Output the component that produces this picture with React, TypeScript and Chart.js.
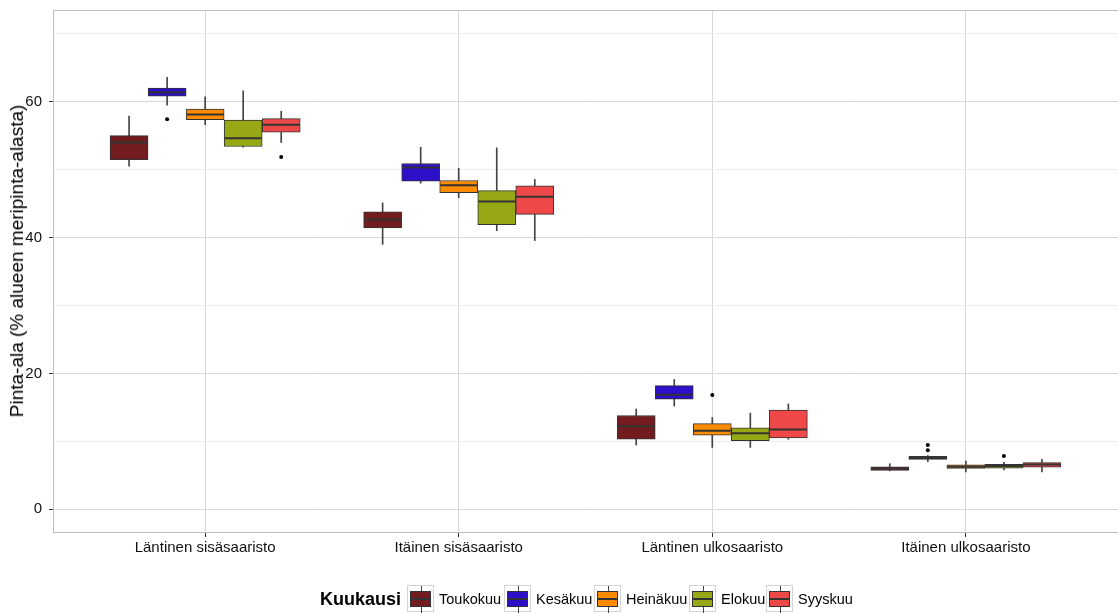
import React, { useEffect, useRef } from "react";
import { Chart, registerables } from "chart.js";

Chart.register(...registerables);

// ---- data ----
const groups = ["Läntinen sisäsaaristo", "Itäinen sisäsaaristo", "Läntinen ulkosaaristo", "Itäinen ulkosaaristo"];
const months = ["Toukokuu", "Kesäkuu", "Heinäkuu", "Elokuu", "Syyskuu"];
const yTitle = "Pinta-ala (% alueen meripinta-alasta)";
const legendTitle = "Kuukausi";

// [lower whisker, Q1, median, Q3, upper whisker] per group
const toukokuu = [
  [50.5, 51.45, 54.0, 55.0, 57.9],
  [39.0, 41.4, 42.65, 43.8, 45.1],
  [9.45, 10.3, 12.2, 13.8, 14.75],
  [5.65, 5.7, 6.0, 6.25, 6.7],
];
const kesakuu = [
  [59.5, 60.8, 61.4, 62.0, 63.6],
  [48.0, 48.3, 50.3, 50.9, 53.3],
  [15.2, 16.2, 16.85, 18.2, 19.1],
  [7.0, 7.35, 7.55, 7.8, 7.9],
];
const heinakuu = [
  [56.6, 57.35, 58.1, 58.9, 60.7],
  [45.85, 46.6, 47.7, 48.4, 50.2],
  [9.1, 10.9, 11.55, 12.6, 13.5],
  [5.5, 6.0, 6.25, 6.55, 7.1],
];
const elokuu = [
  [53.3, 53.4, 54.6, 57.3, 61.6],
  [41.0, 41.9, 45.3, 46.9, 53.2],
  [9.1, 10.1, 11.2, 12.0, 14.15],
  [5.8, 6.05, 6.35, 6.6, 6.9],
];
const syyskuu = [
  [54.0, 55.5, 56.6, 57.5, 58.6],
  [39.55, 43.4, 46.0, 47.6, 48.55],
  [10.3, 10.5, 11.75, 14.6, 15.5],
  [5.5, 6.2, 6.6, 6.85, 7.35],
];
const monthStats = [toukokuu, kesakuu, heinakuu, elokuu, syyskuu];

// outliers
const outlierMonth = [1, 4, 2, 1, 1, 3];
const outlierGroup = [0, 0, 2, 3, 3, 3];
const outlierValue = [57.4, 51.85, 16.8, 9.45, 8.7, 7.85];

const yTicks = [0, 10, 20, 30, 40, 50, 60, 70];

// ---- styles ----
const fills = ["#721C1F", "#2B0FC9", "#FF8C00", "#97A814", "#EF4848"];
const FONT = "'Liberation Sans', Arial, Helvetica, sans-serif";
const DODGE = 0.15;
const BOX_PX = 38;
const legendKeyX = [407, 504, 594, 689, 766];

const xPos = (g: number, m: number) => g + 1 + (m - 2) * DODGE;

export default function App() {
  const ref = useRef<HTMLCanvasElement | null>(null);

  useEffect(() => {
    document.body.style.margin = "0";
    document.body.style.overflow = "hidden";
    const canvas = ref.current;
    if (!canvas) return;

    const datasets: any[] = [];
    monthStats.forEach((stats, m) => {
      datasets.push({
        type: "bar",
        label: months[m] + " whisker",
        data: stats.map((s, g) => ({ x: xPos(g, m), y: [s[0], s[4]] })),
        backgroundColor: "#444444",
        borderWidth: 0,
        barThickness: 1,
        grouped: false,
        order: 3,
      });
      datasets.push({
        type: "bar",
        label: months[m],
        data: stats.map((s, g) => ({ x: xPos(g, m), y: [s[1], s[3]] })),
        backgroundColor: fills[m],
        borderColor: "#333333",
        borderWidth: 1,
        borderSkipped: false,
        barThickness: BOX_PX,
        grouped: false,
        order: 2,
      });
      datasets.push({
        type: "scatter",
        label: months[m] + " median",
        data: stats.map((s, g) => ({ x: xPos(g, m), y: s[2] })),
        pointStyle: "line",
        radius: BOX_PX / 2 - 0.5,
        borderColor: "#333333",
        borderWidth: 2,
        order: 1,
      });
    });
    datasets.push({
      type: "scatter",
      label: "outliers",
      data: outlierValue.map((v, i) => ({ x: xPos(outlierGroup[i], outlierMonth[i]), y: v })),
      pointStyle: "circle",
      radius: 2,
      backgroundColor: "#000000",
      borderColor: "#000000",
      borderWidth: 0,
      order: 0,
    });

    const panelBorder = {
      id: "panelBorder",
      beforeDatasetsDraw(chart: any) {
        const { ctx, chartArea: a } = chart;
        ctx.save();
        ctx.strokeStyle = "#BEBEBE";
        ctx.lineWidth = 1;
        ctx.strokeRect(a.left + 0.5, a.top + 0.5, a.right - a.left, a.bottom - a.top - 1);
        ctx.restore();
      },
    };

    const zeroPad = (ax: any) => {
      ax.paddingTop = 0;
      ax.paddingBottom = 0;
      ax.paddingLeft = 0;
      ax.paddingRight = 0;
    };

    const chart = new Chart(canvas, {
      type: "bar",
      data: { datasets },
      plugins: [panelBorder],
      options: {
        animation: false,
        responsive: false,
        events: [],
        layout: { autoPadding: false, padding: { top: 10, right: 0, bottom: 38, left: 0 } },
        plugins: { legend: { display: false }, tooltip: { enabled: false } },
        scales: {
          x: {
            type: "linear",
            min: 0.4,
            max: 4.6,
            offset: false,
            afterBuildTicks: (ax: any) => {
              ax.ticks = [1, 2, 3, 4].map((v) => ({ value: v }));
            },
            afterFit: (ax: any) => {
              ax.height = 42;
              zeroPad(ax);
            },
            ticks: {
              autoSkip: false,
              maxRotation: 0,
              padding: 2,
              color: "#111111",
              font: { family: FONT, size: 15 },
              callback: (_v: any, i: number) => groups[i],
            },
            grid: { color: "#D9D9D9", tickColor: "#333333", tickLength: 4, lineWidth: 1, offset: false },
            border: { display: false },
          },
          y: {
            type: "linear",
            min: -3.5,
            max: 73.5,
            afterBuildTicks: (ax: any) => {
              ax.ticks = yTicks.map((v) => ({ value: v }));
            },
            afterFit: (ax: any) => {
              ax.width = 53;
              zeroPad(ax);
            },
            ticks: {
              padding: 7,
              color: "#111111",
              font: { family: FONT, size: 15 },
              callback: (v: any) => (Number(v) % 20 === 0 && Number(v) <= 60 ? String(v) : ""),
            },
            grid: {
              color: (c: any) => (c.tick && c.tick.value % 20 === 0 ? "#D9D9D9" : "#EDEDED"),
              tickColor: (c: any) => (c.tick && c.tick.value % 20 === 0 ? "#333333" : "rgba(0,0,0,0)"),
              tickLength: 4,
              lineWidth: 1,
            },
            border: { display: false },
            title: { display: false },
          },
        },
      } as any,
    });
    return () => chart.destroy();
  }, []);

  return (
    <div style={{ position: "relative", width: 1118, height: 613, background: "#fff", fontFamily: FONT }}>
      <canvas ref={ref} width={1118} height={613} style={{ position: "absolute", left: 0, top: 0 }} />
      <div
        style={{
          position: "absolute",
          left: 17,
          top: 261,
          transform: "translate(-50%, -50%) rotate(-90deg)",
          fontSize: 19,
          lineHeight: "22px",
          color: "#000",
          whiteSpace: "nowrap",
        }}
      >
        {yTitle}
      </div>
      <div
        style={{
          position: "absolute",
          left: 320,
          top: 585,
          height: 28,
          lineHeight: "28px",
          fontSize: 18,
          fontWeight: "bold",
          color: "#000",
          whiteSpace: "nowrap",
        }}
      >
        {legendTitle}
      </div>
      {months.map((m, i) => (
        <React.Fragment key={m}>
          <div
            style={{
              position: "absolute",
              left: legendKeyX[i],
              top: 585,
              width: 27,
              height: 27,
              border: "1px solid #D4D4D4",
              background: "#fff",
              boxSizing: "border-box",
            }}
          >
            <div style={{ position: "absolute", left: 13, top: 0, width: 1, height: 27, background: "#444" }} />
            <div
              style={{
                position: "absolute",
                left: 2,
                top: 5,
                width: 21,
                height: 16,
                background: fills[i],
                border: "1px solid #333",
                boxSizing: "border-box",
              }}
            />
            <div style={{ position: "absolute", left: 2, top: 12, width: 21, height: 2, background: "#333" }} />
          </div>
          <div
            style={{
              position: "absolute",
              left: legendKeyX[i] + 32,
              top: 585,
              height: 28,
              lineHeight: "28px",
              fontSize: 14.5,
              color: "#000",
              whiteSpace: "nowrap",
            }}
          >
            {m}
          </div>
        </React.Fragment>
      ))}
    </div>
  );
}
